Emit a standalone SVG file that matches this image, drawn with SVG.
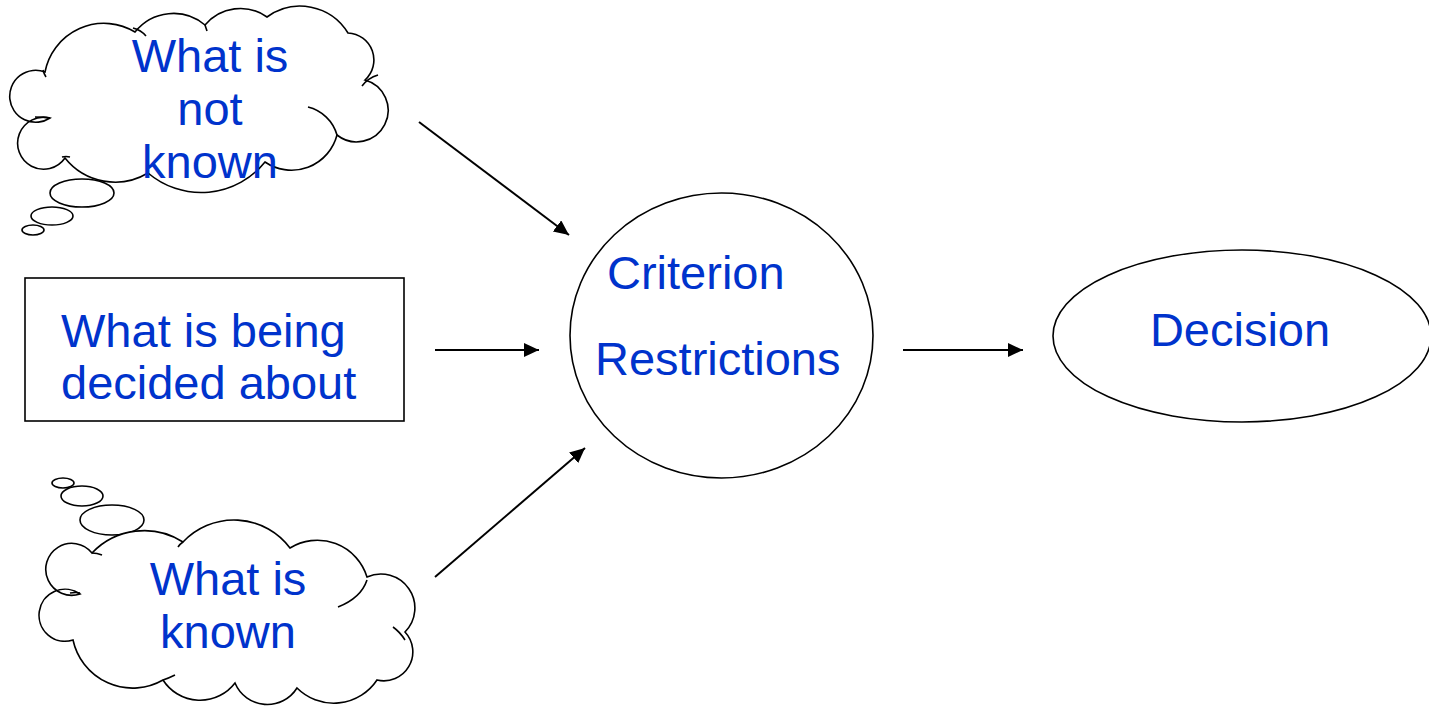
<svg xmlns="http://www.w3.org/2000/svg" width="1429" height="706" viewBox="0 0 1429 706">
<style>
.shape{fill:#fff;stroke:#000;stroke-width:1.6}
.inner{fill:none;stroke:#000;stroke-width:1.6}
.lbl{font-family:"Liberation Sans",Arial,sans-serif;font-size:47px;fill:#0033CC}
.mid{text-anchor:middle}
.conn{stroke:#000;stroke-width:2;fill:none}
</style>
<defs>
<marker id="ah" markerUnits="userSpaceOnUse" markerWidth="17" markerHeight="15" refX="15" refY="7" orient="auto">
<path d="M0,0 L15,7 L0,14 z" fill="#000"/>
</marker>
</defs>
<rect width="1429" height="706" fill="#fff"/>

<g id="connectors">
<line class="conn" x1="419" y1="122" x2="569" y2="235" marker-end="url(#ah)"/>
<line class="conn" x1="435" y1="350" x2="539" y2="350" marker-end="url(#ah)"/>
<line class="conn" x1="435" y1="577" x2="585" y2="448" marker-end="url(#ah)"/>
<line class="conn" x1="903" y1="350" x2="1023" y2="350" marker-end="url(#ah)"/>
</g>

<g id="not-known">
<ellipse class="shape" cx="82" cy="193" rx="32" ry="14"/>
<ellipse class="shape" cx="52" cy="216" rx="21" ry="9"/>
<ellipse class="shape" cx="33" cy="230" rx="11" ry="5"/>
<path class="shape" d="M45,72 A60,60 0 0 1 135,32 A49,49 0 0 1 205,25 A46,46 0 0 1 267,17 A56,56 0 0 1 348,33 A27,27 0 0 1 365,80 A31.5,31.5 0 1 1 337,135 A47,47 0 0 1 265,162 A82,82 0 0 1 148,173 A64,64 0 0 1 65,158 A26,26 0 1 1 50,118 A26,26 0 1 1 45,72 Z"/>
<path class="inner" d="M308,107 A40,40 0 0 1 337,135"/>
<path class="inner" d="M362,86 Q368,78 378,75"/>
<path class="inner" d="M133,28 Q141,30 146,36"/>
<path class="inner" d="M43,70 Q44,74 46,77"/>
<path class="inner" d="M205,25 Q206,28 207,31"/>
<path class="inner" d="M62,157 Q66,156 70,157"/>
<path class="inner" d="M50,118 Q42,117 35,117"/>
<text class="lbl mid" x="210" y="72">What is</text>
<text class="lbl mid" x="210" y="125">not</text>
<text class="lbl mid" x="210" y="178">known</text>
</g>

<g id="being-decided">
<rect class="shape" x="25" y="278" width="379" height="143"/>
<text class="lbl" x="61" y="347">What is being</text>
<text class="lbl" x="61" y="399">decided about</text>
</g>

<g id="known">
<ellipse class="shape" cx="63" cy="483" rx="11" ry="5"/>
<ellipse class="shape" cx="82" cy="496" rx="21" ry="10"/>
<ellipse class="shape" cx="112" cy="520" rx="32" ry="15"/>
<path class="shape" d="M80,594 A26,26 0 1 1 92,553 A72,72 0 0 1 183,542 A70,70 0 0 1 290,548 A52,52 0 0 1 367,577 A34,34 0 0 1 405,632 A29,29 0 0 1 377,680 A52,52 0 0 1 297,688 A35,35 0 0 1 235,683 A44,44 0 0 1 163,680 A61,61 0 0 1 73,640 A26,26 0 1 1 80,594 Z"/>
<path class="inner" d="M338,607 Q361,598 367,580"/>
<path class="inner" d="M393,627 Q400,632 405,640"/>
<path class="inner" d="M175,675 Q169,678 163,680"/>
<path class="inner" d="M102,555 Q97,553 92,553"/>
<path class="inner" d="M183,542 Q180,544 178,547"/>
<path class="inner" d="M80,593 Q76,592 70,593"/>
<text class="lbl mid" x="228" y="595">What is</text>
<text class="lbl mid" x="228" y="648">known</text>
</g>

<g id="criterion">
<ellipse class="shape" cx="721.5" cy="335.5" rx="151.5" ry="142.5"/>
<text class="lbl" x="607" y="289">Criterion</text>
<text class="lbl" x="595" y="375">Restrictions</text>
</g>

<g id="decision">
<ellipse class="shape" cx="1242" cy="336" rx="189" ry="86"/>
<text class="lbl mid" x="1240" y="346">Decision</text>
</g>
</svg>
